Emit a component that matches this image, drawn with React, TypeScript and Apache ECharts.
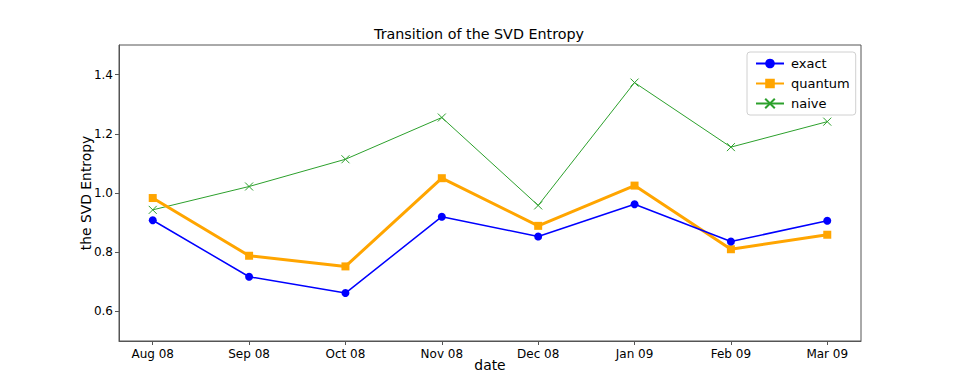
import React, { useEffect, useRef } from "react";
import * as echarts from "echarts";

const categories = ["Aug 08", "Sep 08", "Oct 08", "Nov 08", "Dec 08", "Jan 09", "Feb 09", "Mar 09"];
const exactValues = [0.908, 0.717, 0.662, 0.92, 0.853, 0.962, 0.836, 0.906];
const quantumValues = [0.983, 0.788, 0.752, 1.05, 0.889, 1.025, 0.81, 0.859];
const naiveValues = [0.943, 1.022, 1.114, 1.255, 0.958, 1.373, 1.155, 1.241];
const yTicks = [0.6, 0.8, 1.0, 1.2, 1.4];

const FONT = "DejaVu Sans";

export default function App() {
  const ref = useRef<HTMLDivElement>(null);
  useEffect(() => {
    if (!ref.current) return;
    const chart = echarts.init(ref.current, undefined, { renderer: "svg" });
    const toPairs = (arr: number[]) => arr.map((v, i) => [i, v]);
    const xIdx = categories.map((_, i) => i);
    chart.setOption({
      animation: false,
      backgroundColor: "#ffffff",
      textStyle: { fontFamily: FONT },
      title: {
        text: "Transition of the SVD Entropy",
        left: "center",
        top: 22,
        textStyle: { fontFamily: FONT, fontSize: 14.3, fontWeight: "normal", color: "#000" },
      },
      grid: {
        left: 119,
        right: 97,
        top: 45,
        bottom: 42,
        show: true,
        borderColor: "#555",
        borderWidth: 1,
        backgroundColor: "transparent",
      },
      legend: {
        orient: "vertical",
        left: 747,
        top: 52,
        padding: [5, 6, 5, 8],
        itemGap: 7,
        itemWidth: 28,
        itemHeight: 12,
        borderColor: "#d0d0d0",
        borderWidth: 1,
        borderRadius: 3,
        backgroundColor: "rgba(255,255,255,0.8)",
        textStyle: { fontFamily: FONT, fontSize: 13, color: "#000", padding: [0, 0, 0, 2] },
        data: ["exact", "quantum", "naive"],
      },
      xAxis: {
        type: "value",
        min: -0.35,
        max: 7.35,
        name: "date",
        nameLocation: "middle",
        nameGap: 17,
        nameMoveOverlap: false,
        nameTextStyle: { fontFamily: FONT, fontSize: 13.9, color: "#000" },
        axisLine: { show: true, onZero: false, lineStyle: { color: "#555", width: 1 } },
        axisTick: { show: true, length: 4, inside: false, customValues: xIdx, lineStyle: { color: "#555" } },
        axisLabel: {
          customValues: xIdx,
          formatter: (v: number) => categories[Math.round(v)] ?? "",
          fontFamily: FONT,
          fontSize: 12,
          color: "#000",
          margin: 7,
        },
        splitLine: { show: false },
      },
      yAxis: {
        type: "value",
        min: 0.5,
        max: 1.5,
        name: "the SVD Entropy",
        nameLocation: "middle",
        nameGap: 26,
        nameMoveOverlap: false,
        nameTextStyle: { fontFamily: FONT, fontSize: 13.9, color: "#000" },
        axisLine: { show: true, onZero: false, lineStyle: { color: "#555", width: 1 } },
        axisTick: { show: true, length: 4, inside: false, customValues: yTicks, lineStyle: { color: "#555" } },
        axisLabel: {
          customValues: yTicks,
          formatter: (v: number) => v.toFixed(1),
          fontFamily: FONT,
          fontSize: 12,
          color: "#000",
          margin: 6,
        },
        splitLine: { show: false },
      },
      series: [
        {
          name: "exact",
          type: "line",
          data: toPairs(exactValues),
          symbol: "circle",
          symbolSize: 8,
          itemStyle: { color: "#0000ff" },
          lineStyle: { color: "#0000ff", width: 1.5 },
          z: 3,
        },
        {
          name: "quantum",
          type: "line",
          data: toPairs(quantumValues),
          symbol: "rect",
          symbolSize: 8,
          itemStyle: { color: "#ffa500" },
          lineStyle: { color: "#ffa500", width: 3 },
          z: 2,
        },
        {
          name: "naive",
          type: "line",
          data: toPairs(naiveValues),
          symbol: "path://M0,0L10,10M10,0L0,10",
          symbolSize: 8,
          itemStyle: { color: "transparent", borderColor: "#2ca02c", borderWidth: 1 },
          lineStyle: { color: "#2ca02c", width: 1 },
          z: 1,
        },
      ],
    });
    return () => chart.dispose();
  }, []);
  return (
    <div
      ref={ref}
      style={{ position: "fixed", left: 0, top: 0, width: 958, height: 383 }}
    />
  );
}
